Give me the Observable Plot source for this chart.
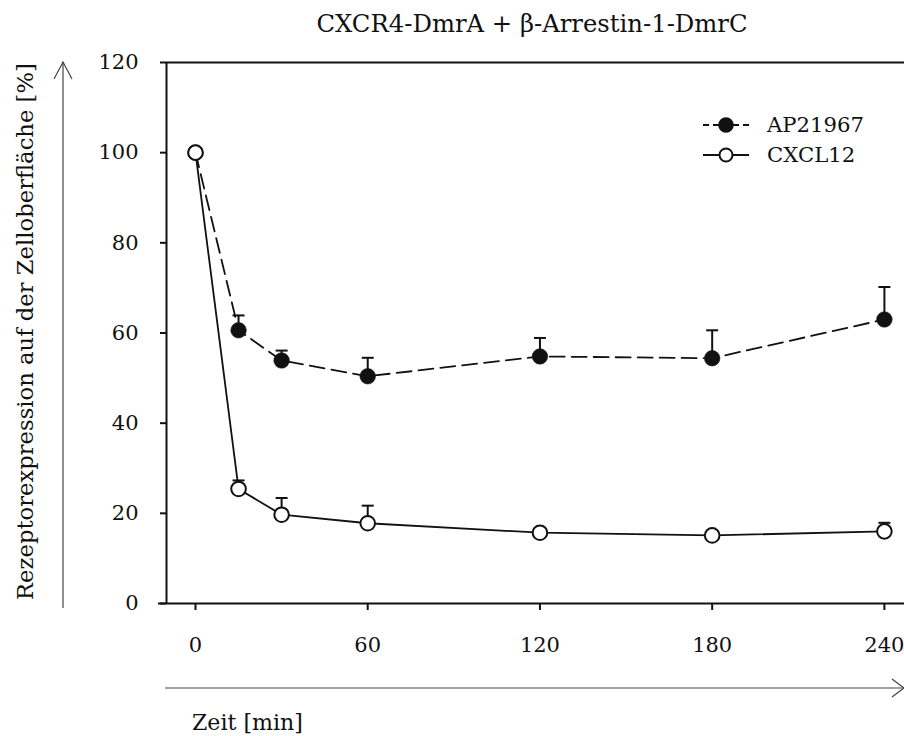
<!DOCTYPE html>
<html>
<head>
<meta charset="utf-8">
<script src="https://cdn.jsdelivr.net/npm/d3@7"></script>
<script src="https://cdn.jsdelivr.net/npm/@observablehq/plot@0.6"></script>
<style>
  body { margin: 0; background: #fff; }
  #wrap { position: relative; width: 904px; height: 736px; color: #111; }
  #title { height: 46px; position: relative; }
  #chart svg { display: block; }
</style>
</head>
<body>
<div id="wrap">
  <div id="title"></div>
  <div id="chart"></div>
</div>
<script>
// ---- data ----
const titleText = "CXCR4-DmrA + β-Arrestin-1-DmrC";
const yLabel = "Rezeptorexpression auf der Zelloberfläche [%]";
const xLabel = "Zeit [min]";
const seriesNames = ["AP21967", "CXCL12"];
const times = [0, 15, 30, 60, 120, 180, 240];
const apMean  = [100, 60.6, 53.9, 50.4, 54.8, 54.4, 63.0];
const apUpper = [null, 63.9, 56.1, 54.5, 58.9, 60.6, 70.2];
const cxMean  = [100, 25.4, 19.7, 17.8, 15.7, 15.1, 16.0];
const cxUpper = [null, 27.3, 23.4, 21.7, null, null, 17.9];
const xTicks = [0, 60, 120, 180, 240];
const yTicks = [0, 20, 40, 60, 80, 100, 120];
const xDomain = [-10.1, 247];
const yDomain = [0, 120];

// ---- tables built from the arrays ----
const ap = times.map((t, i) => ({t, mean: apMean[i], upper: apUpper[i]}));
const cx = times.map((t, i) => ({t, mean: cxMean[i], upper: cxUpper[i]}));
const apErr = ap.filter(d => d.upper != null);
const cxErr = cx.filter(d => d.upper != null);

const ink = "#111";
const fontStack = "'DejaVu Serif', 'Liberation Serif', 'Noto Serif', serif";

// font size that makes a string reach a target width in the chosen font
const mctx = document.createElement("canvas").getContext("2d");
function fitSize(text, targetWidth) {
  mctx.font = `100px ${fontStack}`;
  return Math.round(100 * targetWidth / mctx.measureText(text).width * 10) / 10;
}
const tickSize = fitSize("240", 40);
const titleSize = fitSize(titleText, 431);
const yLabelSize = fitSize(yLabel, 538);
const xLabelSize = fitSize(xLabel, 111);
const legendSize = fitSize(seriesNames[0], 97);

// horizontal cap symbol for error bars
const capSymbol = {
  draw(ctx, size) {
    const w = Math.sqrt(size / Math.PI);
    ctx.moveTo(-w, 0);
    ctx.lineTo(w, 0);
  }
};

function styledText(sel, size) {
  return sel.style("font-family", fontStack).style("font-size", size + "px").attr("fill", ink);
}

// title (above the plot)
const titleSvg = d3.select("#title").append("svg").attr("width", 904).attr("height", 46).style("display", "block");
styledText(titleSvg.append("text"), titleSize)
  .attr("x", 532).attr("y", 31.5).attr("text-anchor", "middle").text(titleText);

const chart = Plot.plot({
  width: 904,
  height: 690,
  marginLeft: 166,
  marginRight: 0,
  marginTop: 16,
  marginBottom: 133,
  x: {domain: xDomain},
  y: {domain: yDomain},
  style: {fontFamily: fontStack, fontSize: tickSize + "px", color: ink, background: "white", overflow: "visible"},
  marks: [
    Plot.ruleX([xDomain[0]], {stroke: ink, strokeWidth: 2}),
    Plot.ruleY([yDomain[1]], {stroke: ink, strokeWidth: 2}),
    Plot.ruleY([yDomain[0]], {stroke: ink, strokeWidth: 2, insetLeft: -8}),
    Plot.axisY({ticks: yTicks, tickSize: 6, tickPadding: 22, label: null, strokeWidth: 2, stroke: ink}),
    Plot.axisX({ticks: xTicks, tickSize: 7, tickPadding: 27, label: null, strokeWidth: 2, stroke: ink}),
    Plot.ruleX(apErr, {x: "t", y1: "mean", y2: "upper", stroke: ink, strokeWidth: 2}),
    Plot.dot(apErr, {x: "t", y: "upper", symbol: capSymbol, r: 6, stroke: ink, strokeWidth: 2}),
    Plot.ruleX(cxErr, {x: "t", y1: "mean", y2: "upper", stroke: ink, strokeWidth: 2}),
    Plot.dot(cxErr, {x: "t", y: "upper", symbol: capSymbol, r: 6, stroke: ink, strokeWidth: 2}),
    Plot.line(ap, {x: "t", y: "mean", stroke: ink, strokeWidth: 1.8, strokeDasharray: "15,7"}),
    Plot.line(cx, {x: "t", y: "mean", stroke: ink, strokeWidth: 1.8}),
    Plot.dot(ap, {x: "t", y: "mean", r: 7.8, fill: ink, stroke: ink, strokeWidth: 0.5}),
    Plot.dot(cx, {x: "t", y: "mean", r: 7.3, fill: "white", stroke: ink, strokeWidth: 2})
  ]
});
document.getElementById("chart").appendChild(chart);

// ---- decorations: axis arrows, axis titles, legend ----
const svg = d3.select(chart);
const off = 46; // svg top in page coordinates
const g = svg.append("g").attr("text-anchor", "start");
const arrowInk = "#444";

g.append("line").attr("x1", 63).attr("x2", 63).attr("y1", 608 - off).attr("y2", 62 - off)
  .attr("stroke", arrowInk).attr("stroke-width", 1.2);
g.append("polyline").attr("points", `54,${79 - off} 63,${62 - off} 72,${79 - off}`)
  .attr("fill", "none").attr("stroke", arrowInk).attr("stroke-width", 1.2);
styledText(g.append("text"), yLabelSize)
  .attr("transform", `translate(33,${600 - off}) rotate(-90)`).attr("text-anchor", "start").text(yLabel);

g.append("line").attr("x1", 165).attr("x2", 904).attr("y1", 688 - off).attr("y2", 688 - off)
  .attr("stroke", arrowInk).attr("stroke-width", 1.2);
g.append("polyline").attr("points", `892,${679 - off} 904,${688 - off} 892,${697 - off}`)
  .attr("fill", "none").attr("stroke", arrowInk).attr("stroke-width", 1.2);
styledText(g.append("text"), xLabelSize)
  .attr("x", 192).attr("y", 730 - off).attr("text-anchor", "start").text(xLabel);

const legendRows = [
  {name: seriesNames[0], y: 125 - off, dash: "6,4", fill: ink, r: 6.8},
  {name: seriesNames[1], y: 155 - off, dash: null, fill: "white", r: 6.5}
];
legendRows.forEach(row => {
  const l = g.append("line").attr("x1", 703).attr("x2", 749).attr("y1", row.y).attr("y2", row.y)
    .attr("stroke", ink).attr("stroke-width", 2);
  if (row.dash) l.attr("stroke-dasharray", row.dash);
  g.append("circle").attr("cx", 726).attr("cy", row.y).attr("r", row.r)
    .attr("fill", row.fill).attr("stroke", ink).attr("stroke-width", 2);
  styledText(g.append("text"), legendSize)
    .attr("x", 767).attr("y", row.y).attr("dy", "0.35em").attr("text-anchor", "start").text(row.name);
});
</script>
</body>
</html>
